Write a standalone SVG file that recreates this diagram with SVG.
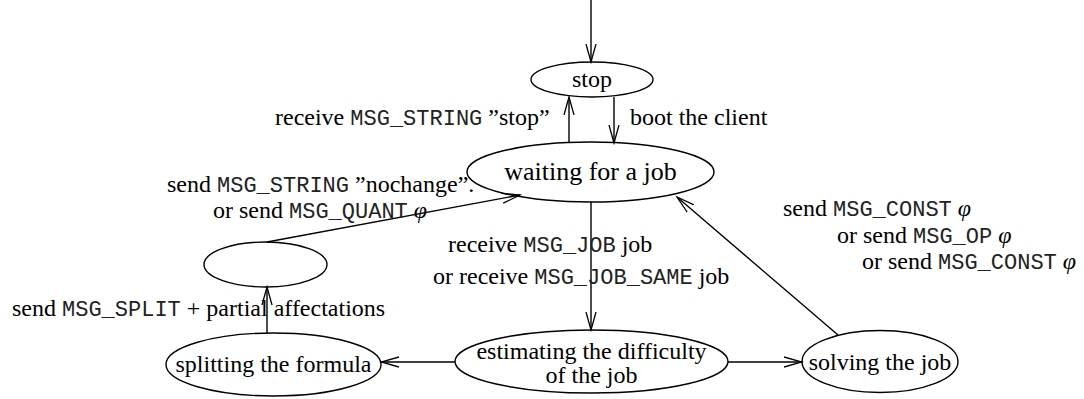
<svg xmlns="http://www.w3.org/2000/svg" width="1084" height="399" viewBox="0 0 1084 399">
<style>
.n{fill:none;stroke:#000;stroke-width:1.4}
.t{font-family:"Liberation Serif","Times New Roman",serif;font-size:24px;fill:#000}
.m{font-family:"Liberation Mono","Courier New",monospace;font-size:22px;fill:#222}
.v{font-style:italic}
.e{fill:none;stroke:#000;stroke-width:1.4}
</style>
<defs>
<marker id="a" markerUnits="userSpaceOnUse" markerWidth="20" markerHeight="14" refX="18" refY="6" orient="auto">
<path d="M0,1 L18,6 L0,11" fill="none" stroke="#000" stroke-width="1.3"/>
</marker>
</defs>
<rect width="1084" height="399" fill="#fff"/>
<g id="connectors">
<line class="e" x1="591" y1="0" x2="591" y2="62" marker-end="url(#a)"/>
<line class="e" x1="569" y1="143" x2="569" y2="97" marker-end="url(#a)"/>
<line class="e" x1="614" y1="97" x2="614" y2="143" marker-end="url(#a)"/>
<line class="e" x1="591" y1="202" x2="591" y2="330" marker-end="url(#a)"/>
<line class="e" x1="455" y1="362" x2="381" y2="362" marker-end="url(#a)"/>
<line class="e" x1="728" y1="362" x2="802" y2="362" marker-end="url(#a)"/>
<line class="e" x1="267" y1="333" x2="267" y2="287" marker-end="url(#a)"/>
<line class="e" x1="267" y1="242" x2="520" y2="195" marker-end="url(#a)"/>
<line class="e" x1="838" y1="335" x2="677" y2="197" marker-end="url(#a)"/>
</g>
<g id="labels">
<text class="t" x="275" y="125">receive <tspan class="m">MSG_STRING</tspan> ”stop”</text>
<text class="t" x="630" y="125">boot the client</text>
<text class="t" x="167" y="192">send <tspan class="m">MSG_STRING</tspan> ”nochange”.</text>
<text class="t" x="213" y="218">or send <tspan class="m">MSG_QUANT</tspan> <tspan class="v">φ</tspan></text>
<text class="t" x="448" y="252">receive <tspan class="m">MSG_JOB</tspan> job</text>
<text class="t" x="433" y="284">or receive <tspan class="m">MSG_JOB_SAME</tspan> job</text>
<text class="t" x="12" y="316">send <tspan class="m">MSG_SPLIT</tspan> + partial affectations</text>
<text class="t" x="783" y="216">send <tspan class="m">MSG_CONST</tspan> <tspan class="v">φ</tspan></text>
<text class="t" x="837" y="243">or send <tspan class="m">MSG_OP</tspan> <tspan class="v">φ</tspan></text>
<text class="t" x="862" y="269">or send <tspan class="m">MSG_CONST</tspan> <tspan class="v">φ</tspan></text>
</g>
<g id="stop">
<ellipse class="n" cx="592" cy="79.5" rx="61" ry="17.5"/>
<text class="t" x="592" y="87" text-anchor="middle">stop</text>
</g>
<g id="waiting">
<ellipse class="n" cx="590.5" cy="172" rx="123.5" ry="30"/>
<text class="t" x="590.5" y="180" text-anchor="middle" style="font-size:26px">waiting for a job</text>
</g>
<g id="intermediate">
<ellipse class="n" cx="265.5" cy="264.5" rx="61.5" ry="22.5"/>
</g>
<g id="splitting">
<ellipse class="n" cx="273.5" cy="364.5" rx="107.5" ry="31.5"/>
<text class="t" x="273.5" y="372" text-anchor="middle">splitting the formula</text>
</g>
<g id="estimating">
<ellipse class="n" cx="591.5" cy="361.5" rx="136.5" ry="31.5"/>
<text class="t" x="591.5" y="359" text-anchor="middle">estimating the difficulty</text>
<text class="t" x="591.5" y="383" text-anchor="middle">of the job</text>
</g>
<g id="solving">
<ellipse class="n" cx="880" cy="361.5" rx="78" ry="31"/>
<text class="t" x="880" y="370" text-anchor="middle">solving the job</text>
</g>
</svg>
